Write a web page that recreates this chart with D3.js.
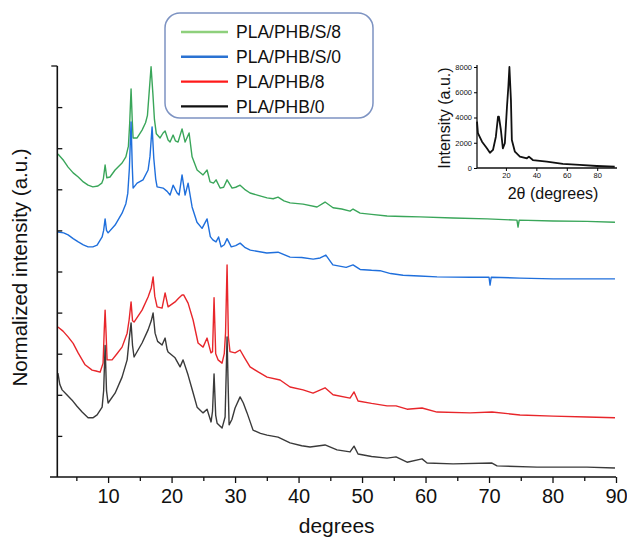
<!DOCTYPE html>
<html>
<head>
<meta charset="utf-8">
<script src="https://cdn.jsdelivr.net/npm/d3@7"></script>
<style>
  body { margin: 0; background: #fff; }
  svg { display: block; }
  text { font-family: "Liberation Sans", Arial, sans-serif; fill: #111; }
</style>
</head>
<body>
<svg id="chart" width="627" height="539"></svg>
<script>
// XRD patterns, 2θ in degrees vs. normalized intensity (stacked offsets)
const seriesNames = ["PLA/PHB/S/8", "PLA/PHB/S/0", "PLA/PHB/8", "PLA/PHB/0"];
const lineColors = ["#3aa65a", "#1f6fdc", "#e8262b", "#3a3a3a"];
const legendColors = ["#8ed07c", "#2a72d2", "#ff1a1a", "#111111"];

const plaPhbS8 = [
  [2.1,7.86],[3.0,7.70],[3.7,7.54],[4.5,7.40],[5.3,7.30],[6.1,7.18],[6.85,7.10],[7.6,7.06],[8.4,7.08],[9.0,7.15],
  [9.25,7.25],[9.53,7.59],[9.8,7.28],[10.3,7.30],[11.1,7.47],[12.2,7.64],[12.8,7.79],[13.2,8.05],[13.4,8.6],[13.62,9.44],
  [13.8,8.7],[13.94,8.25],[14.57,8.25],[15.35,8.44],[15.9,8.62],[16.2,8.8],[16.46,9.34],[16.77,9.98],[17.05,9.34],[17.3,8.7],
  [17.6,8.35],[18.19,8.25],[18.66,8.37],[18.98,8.42],[19.45,8.2],[19.76,8.15],[20.24,8.32],[20.6,8.18],[21.02,8.15],[21.65,8.47],
  [22.13,8.15],[22.76,8.37],[23.23,7.79],[24.02,7.47],[24.96,7.35],[25.59,7.47],[26.06,7.18],[26.6,7.15],[27.01,7.23],[27.64,7.03],
  [28.2,7.05],[28.74,7.23],[29.53,7.03],[30.1,7.05],[30.79,7.10],[31.5,7.0],[32.36,6.91],[33.5,6.86],[35.04,6.79],[36.0,6.77],
  [36.77,6.81],[37.7,6.72],[38.66,6.67],[40.71,6.64],[42.91,6.57],[44.17,6.69],[45.43,6.55],[46.8,6.52],[48.11,6.47],[48.58,6.52],
  [49.69,6.42],[51.5,6.39],[53.94,6.35],[56.5,6.34],[59.13,6.33],[64.33,6.30],[69.69,6.28],[74.4,6.25],[74.57,6.08],[74.75,6.25],
  [80.08,6.23],[85.43,6.22],[89.84,6.20]
];

const plaPhbS0 = [
  [2.1,5.96],[3.0,5.94],[3.7,5.89],[4.5,5.80],[5.3,5.72],[6.1,5.65],[6.85,5.60],[7.6,5.60],[8.27,5.64],[9.06,5.84],
  [9.3,6.0],[9.53,6.28],[9.75,6.0],[10.0,5.94],[11.1,6.13],[12.2,6.42],[12.8,6.65],[13.1,6.9],[13.35,7.5],[13.62,8.64],
  [13.8,7.6],[13.94,7.03],[14.57,7.15],[15.5,7.23],[16.3,7.47],[16.6,7.8],[16.93,8.52],[17.2,7.75],[17.5,7.25],[17.72,7.06],
  [18.66,7.03],[19.3,6.95],[19.76,6.86],[20.24,7.10],[20.87,6.91],[21.18,6.86],[21.65,7.35],[22.13,6.86],[22.6,7.15],[23.23,6.57],
  [24.0,6.2],[24.8,6.05],[25.59,6.28],[26.1,5.85],[26.5,5.77],[27.0,5.72],[27.4,5.84],[27.8,5.60],[28.3,5.65],[28.74,5.80],
  [29.4,5.60],[30.1,5.63],[30.8,5.69],[31.6,5.58],[32.4,5.52],[35.0,5.45],[36.77,5.47],[38.66,5.35],[40.5,5.34],[42.3,5.30],
  [43.4,5.33],[44.3,5.40],[45.4,5.16],[47.5,5.10],[48.58,5.16],[49.69,5.05],[51.5,5.03],[52.83,5.02],[54.5,4.95],[56.46,4.91],
  [59.0,4.89],[61.81,4.87],[67.0,4.86],[70.0,4.86],[70.16,4.67],[70.35,4.86],[74.88,4.84],[80.08,4.82],[85.0,4.82],[89.84,4.82]
];

const plaPhb8 = [
  [2.1,3.65],[2.9,3.55],[3.7,3.41],[4.5,3.25],[5.28,3.02],[6.38,2.73],[7.48,2.60],[8.1,2.58],[8.74,2.55],[9.21,2.77],
  [9.4,3.6],[9.53,4.06],[9.68,3.5],[9.84,2.85],[10.63,2.85],[11.4,3.0],[12.2,3.16],[13.0,3.50],[13.31,3.82],[13.62,4.26],
  [13.85,3.8],[14.09,3.77],[15.35,4.06],[16.3,4.38],[16.8,4.6],[17.09,4.87],[17.35,4.4],[17.72,4.14],[18.5,4.11],[18.98,4.48],
  [19.45,4.14],[20.0,4.2],[20.55,4.26],[21.1,4.35],[21.65,4.43],[21.9,4.43],[22.6,4.23],[23.39,3.82],[24.17,3.26],[24.96,3.16],
  [25.59,3.38],[26.2,3.02],[26.45,3.05],[26.69,4.36],[26.95,3.0],[27.32,2.85],[27.95,2.77],[28.3,3.0],[28.5,3.5],[28.74,5.16],
  [28.95,3.4],[29.2,3.05],[30.0,3.02],[30.79,3.09],[31.5,2.9],[32.36,2.68],[33.7,2.55],[35.04,2.43],[37.09,2.36],[38.66,2.19],
  [40.71,2.12],[42.28,2.04],[44.17,2.17],[45.43,2.00],[48.11,1.92],[48.74,2.07],[49.37,1.85],[51.5,1.79],[53.94,1.73],[55.35,1.73],
  [57.09,1.65],[59.45,1.68],[61.81,1.58],[67.01,1.56],[70.47,1.58],[74.88,1.51],[80.08,1.48],[85.43,1.46],[89.84,1.44]
];

const plaPhb0 = [
  [2.1,2.53],[2.4,2.25],[2.76,2.12],[3.5,2.0],[4.33,1.87],[5.1,1.72],[5.91,1.58],[6.85,1.44],[7.6,1.44],[8.27,1.51],
  [9.06,1.70],[9.3,2.1],[9.53,3.2],[9.75,2.1],[10.0,1.80],[11.1,2.04],[12.2,2.43],[13.0,2.85],[13.31,3.33],[13.62,3.75],
  [13.85,3.2],[14.09,2.92],[15.35,3.26],[16.3,3.58],[16.8,3.8],[17.09,3.99],[17.4,3.50],[17.8,3.3],[18.5,3.21],[18.98,3.38],
  [19.3,3.1],[19.45,3.04],[20.55,2.90],[21.34,2.68],[21.81,2.85],[22.6,2.48],[23.3,2.1],[24.02,1.70],[24.96,1.56],[25.59,1.65],
  [26.22,1.34],[26.45,1.6],[26.69,2.51],[26.95,1.5],[27.17,1.31],[27.95,1.19],[28.43,1.46],[28.6,2.5],[28.74,3.41],[28.9,2.3],
  [29.06,1.27],[29.5,1.4],[30.0,1.68],[30.79,1.95],[31.3,1.8],[31.89,1.56],[32.83,1.14],[34.0,1.06],[35.04,1.02],[36.77,0.97],
  [38.66,0.83],[40.5,0.76],[41.81,0.73],[44.17,0.78],[46.06,0.66],[48.11,0.61],[48.74,0.75],[49.37,0.56],[51.5,0.50],[53.94,0.46],
  [55.35,0.49],[57.09,0.36],[59.45,0.44],[60.24,0.34],[64.33,0.32],[70.47,0.34],[71.26,0.27],[77.56,0.24],[85.43,0.24],[89.84,0.22]
];

const seriesData = [plaPhbS8, plaPhbS0, plaPhb8, plaPhb0];

const xMajorTicks = [10, 20, 30, 40, 50, 60, 70, 80, 90];
const xMinorTicks = [5, 15, 25, 35, 45, 55, 65, 75, 85];
const yTicks = [0, 1, 2, 3, 4, 5, 6, 7, 8, 9, 10];

// Inset: raw intensity of the reference pattern
const insetDeg = [1.0, 1.6, 4.3, 7.5, 9.5, 11.5, 13.4, 14.8, 15.4, 16.7, 18.0, 19.3, 20.7, 21.6, 22.3, 23.3, 23.9, 25.9, 29.2, 33.8, 35.1, 37.7, 46.9, 57.4, 68.5, 79.7, 91.5];
const insetVal = [3670, 2770, 2080, 1560, 1210, 1430, 2480, 4060, 4060, 3010, 1560, 1960, 4850, 6440, 8000, 5390, 2220, 1290, 900, 770, 900, 630, 500, 320, 240, 160, 100];
const insetXTicks = [20, 40, 60, 80];
const insetYTicks = [0, 2000, 4000, 6000, 8000];

const svg = d3.select("#chart");

// ---- main plot ----
const x = d3.scaleLinear().domain([2, 90]).range([57.3, 616]);
const y = d3.scaleLinear().domain([0, 10]).range([477, 66]);

const line = d3.line().x(d => x(d[0])).y(d => y(d[1]));

const curves = svg.append("g").attr("class", "curves");
seriesData.forEach((s, i) => {
  curves.append("path")
    .datum(s)
    .attr("fill", "none")
    .attr("stroke", lineColors[i])
    .attr("stroke-width", 1.4)
    .attr("stroke-linejoin", "round")
    .attr("d", line);
});

// x axis
const xAxisG = svg.append("g").attr("transform", `translate(0,${y(0)})`);
xAxisG.call(d3.axisBottom(x).tickValues(xMajorTicks).tickSize(6).tickPadding(6).tickFormat(d3.format("d")))
  .call(g => g.select(".domain").remove())
  .call(g => g.selectAll(".tick line").attr("stroke", "#111").attr("stroke-width", 1.3))
  .call(g => g.selectAll(".tick text").attr("font-size", 20).attr("fill", "#111")
      .attr("font-family", '"Liberation Sans", Arial, sans-serif'));
xAxisG.append("g").call(d3.axisBottom(x).tickValues(xMinorTicks).tickSize(4).tickFormat(""))
  .call(g => g.select(".domain").remove())
  .call(g => g.selectAll(".tick line").attr("stroke", "#111").attr("stroke-width", 1.3));
xAxisG.append("line").attr("x1", 50).attr("x2", x(90)).attr("y1", 0).attr("y2", 0)
  .attr("stroke", "#111").attr("stroke-width", 1.6);

// y axis (ticks only, pointing inward)
const yAxisG = svg.append("g").attr("transform", `translate(${x(2)},0)`);
yAxisG.call(d3.axisLeft(y).tickValues(yTicks.slice(1, -1)).tickSize(-5).tickFormat(""))
  .call(g => g.select(".domain").remove())
  .call(g => g.selectAll(".tick line").attr("stroke", "#111").attr("stroke-width", 1.3));
yAxisG.append("line").attr("x1", -6).attr("x2", 0).attr("y1", y(10)).attr("y2", y(10))
  .attr("stroke", "#111").attr("stroke-width", 1.3);
yAxisG.append("line").attr("x1", 0).attr("x2", 0).attr("y1", y(10)).attr("y2", y(0))
  .attr("stroke", "#111").attr("stroke-width", 1.6);

// axis titles
svg.append("text").attr("x", x(46)).attr("y", 533).attr("text-anchor", "middle")
  .attr("font-size", 21).text("degrees");
svg.append("text").attr("transform", `translate(27,${y(5.1)}) rotate(-90)`).attr("text-anchor", "middle")
  .attr("font-size", 20.5).text("Normalized intensity (a.u.)");

// ---- legend ----
const legend = svg.append("g").attr("transform", "translate(165,13)");
legend.append("rect").attr("width", 208).attr("height", 105).attr("rx", 15).attr("ry", 15)
  .attr("fill", "#fff").attr("stroke", "#7d93c2").attr("stroke-width", 1.5);
seriesNames.forEach((name, i) => {
  const cy = 19 + i * 24.8;
  legend.append("line").attr("x1", 16).attr("x2", 63).attr("y1", cy).attr("y2", cy)
    .attr("stroke", legendColors[i]).attr("stroke-width", 2.4);
  legend.append("text").attr("x", 71).attr("y", cy + 6.2).attr("font-size", 17.5).text(name);
});

// ---- inset ----
const ix = d3.scaleLinear().domain([1, 93]).range([477, 617]);
const iy = d3.scaleLinear().domain([0, 8000]).range([168, 67]);
const inset = svg.append("g").attr("class", "inset");
const insetPts = insetDeg.map((d, i) => [d, insetVal[i]]);
inset.append("path").datum(insetPts)
  .attr("fill", "none").attr("stroke", "#111").attr("stroke-width", 1.8).attr("stroke-linejoin", "round")
  .attr("d", d3.line().x(d => ix(d[0])).y(d => iy(d[1])));

inset.append("g").attr("transform", `translate(0,${iy(0)})`)
  .call(d3.axisBottom(ix).tickValues(insetXTicks).tickSize(3).tickPadding(2).tickFormat(d3.format("d")))
  .call(g => g.select(".domain").attr("stroke", "#111").attr("stroke-width", 1.3).attr("d", `M${ix(1)},0H${ix(93)}`))
  .call(g => g.selectAll(".tick text").attr("font-size", 7.5).attr("fill", "#333"));
inset.append("g").attr("transform", `translate(${ix(1)},0)`)
  .call(d3.axisLeft(iy).tickValues(insetYTicks).tickSize(3).tickPadding(2).tickFormat(d3.format("d")))
  .call(g => g.select(".domain").attr("stroke", "#111").attr("stroke-width", 1.3).attr("d", `M0,${iy(0)}V65`))
  .call(g => g.selectAll(".tick text").attr("font-size", 7.5).attr("fill", "#333"));

inset.append("text").attr("transform", `translate(450,${iy(3950)}) rotate(-90)`).attr("text-anchor", "middle")
  .attr("font-size", 16).text("Intensity (a.u.)");
inset.append("text").attr("x", ix(51)).attr("y", 199).attr("text-anchor", "middle")
  .attr("font-size", 16).text("2θ (degrees)");
</script>
</body>
</html>
